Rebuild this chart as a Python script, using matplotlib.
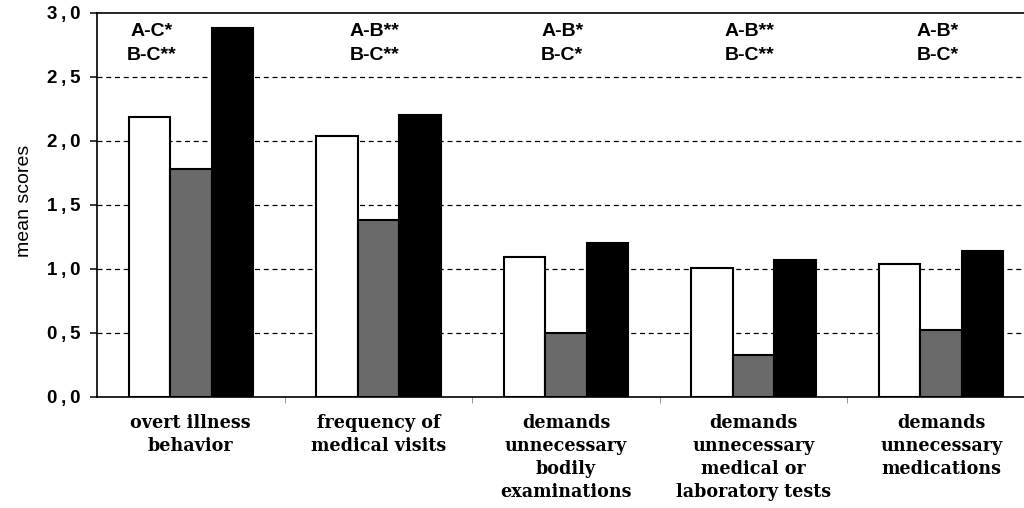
import numpy as np
import matplotlib
matplotlib.use("Agg")
import matplotlib.pyplot as plt

# categories and mean scores (groups A, B, C)
categories = [
    "overt illness\nbehavior",
    "frequency of\nmedical visits",
    "demands\nunnecessary\nbodily\nexaminations",
    "demands\nunnecessary\nmedical or\nlaboratory tests",
    "demands\nunnecessary\nmedications",
]
group_a = [2.19, 2.04, 1.09, 1.01, 1.04]
group_b = [1.78, 1.38, 0.50, 0.33, 0.52]
group_c = [2.88, 2.20, 1.20, 1.07, 1.14]
significance = [
    "A-C*\nB-C**",
    "A-B**\nB-C**",
    "A-B*\nB-C*",
    "A-B**\nB-C**",
    "A-B*\nB-C*",
]
yticks = [0.0, 0.5, 1.0, 1.5, 2.0, 2.5, 3.0]

fig = plt.figure(figsize=(10.24, 5.08), dpi=100)
# axes runs a bit past the right edge, the original is cropped there
ax = fig.add_axes([97 / 1024, 111 / 508, 938 / 1024, 384 / 508])

x = np.arange(len(categories))
w = 0.221
bar_kw = dict(width=w, edgecolor="black", linewidth=1.5, zorder=3)
ax.bar(x - w, group_a, color="white", **bar_kw)
ax.bar(x, group_b, color="#6a6a6a", **bar_kw)
ax.bar(x + w, group_c, color="black", **bar_kw)

ax.set_xlim(-0.5, len(categories) - 0.5)
ax.set_ylim(0, 3.0)

# dashed grid at each y tick, behind the bars
for v in yticks[1:-1]:
  ax.axhline(v, color="black", linestyle=(0, (4, 3)), linewidth=0.9, zorder=1)

# the original sets the comma apart from the digits
ax.set_yticks(yticks)
ax.set_yticklabels([f"{v:.1f}".replace(".", "\u2009,\u2009") for v in yticks],
                   fontfamily="Liberation Sans", fontweight="bold", fontsize=13.5)
ax.tick_params(axis="y", direction="out", length=5, width=1.1, pad=7)

ax.set_xticks(x)
ax.set_xticklabels(categories, fontfamily="DejaVu Serif", fontstretch="condensed",
                   fontweight="bold", fontsize=14, linespacing=1.37)
ax.tick_params(axis="x", length=0, pad=12)
ax.set_xticks(x[:-1] + 0.5, minor=True)
ax.tick_params(axis="x", which="minor", direction="out", length=4, width=0.6, color="#888888")

ax.set_ylabel("mean scores", fontfamily="Liberation Sans", fontsize=14)
ax.yaxis.set_label_coords(-0.068, 0.51)

for sp in ("left", "bottom", "top", "right"):
  ax.spines[sp].set_linewidth(1.2)

# significance labels above each group; first one shifted left of the tall bar
for i, txt in enumerate(significance):
  xi = i - 0.21 if i == 0 else i - 0.02
  ax.text(xi, 2.92, txt, ha="center", va="top", fontfamily="Liberation Sans",
          fontweight="bold", fontsize=14, linespacing=1.55, zorder=4)

fig.savefig("out.png", dpi=100)
